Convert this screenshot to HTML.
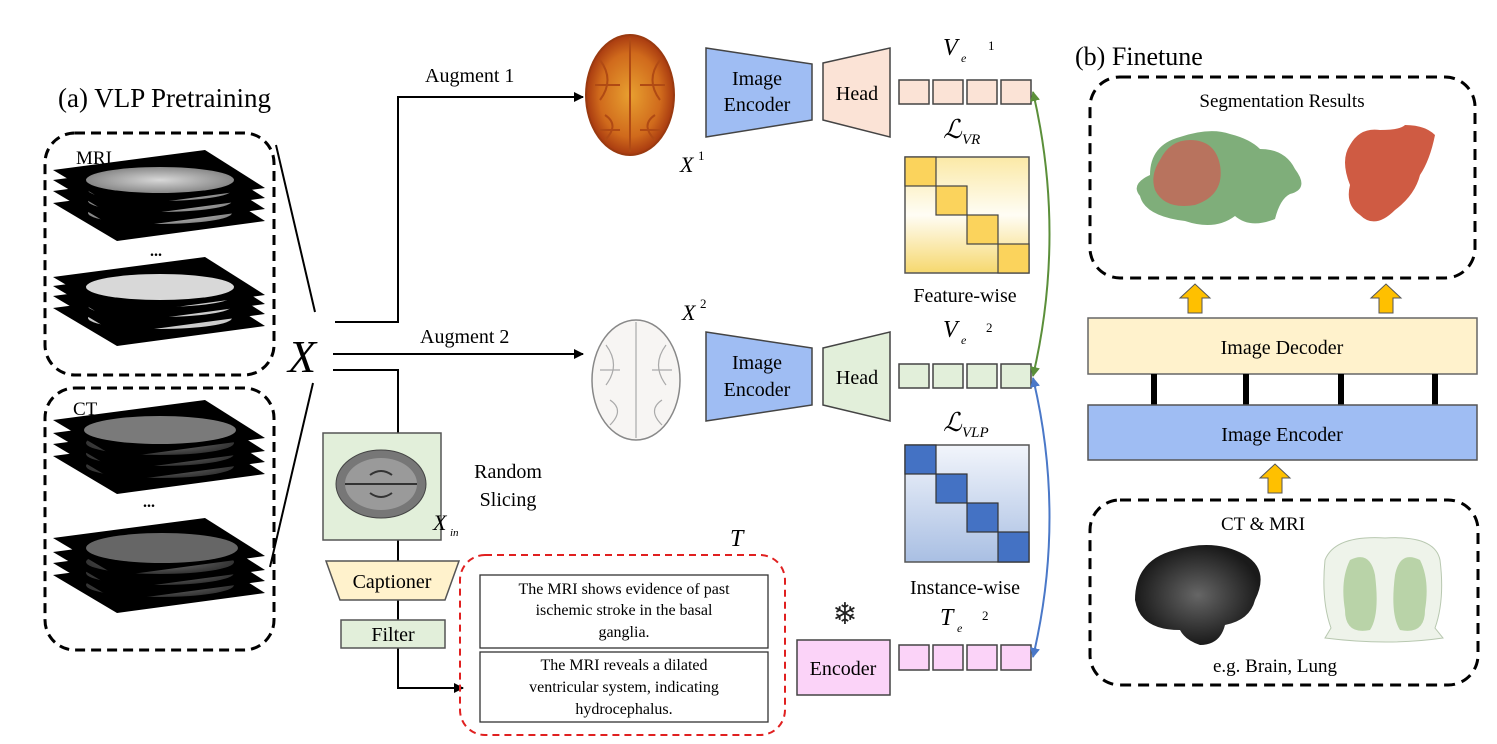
<!DOCTYPE html>
<html><head><meta charset="utf-8"><style>
body{margin:0;background:#fff}
svg{display:block;font-family:"Liberation Serif",serif}
</style></head><body>
<svg width="1497" height="744" viewBox="0 0 1497 744" xmlns="http://www.w3.org/2000/svg">
<defs>
<marker id="ar" markerWidth="10" markerHeight="10" refX="9" refY="5" orient="auto" markerUnits="userSpaceOnUse"><path d="M0,0 L10,5 L0,10 z" fill="#000"/></marker>
<marker id="ag" markerWidth="10" markerHeight="10" refX="9" refY="5" orient="auto-start-reverse" markerUnits="userSpaceOnUse"><path d="M0,0 L10,5 L0,10 z" fill="#5b8f3a"/></marker>
<marker id="ab" markerWidth="10" markerHeight="10" refX="9" refY="5" orient="auto-start-reverse" markerUnits="userSpaceOnUse"><path d="M0,0 L10,5 L0,10 z" fill="#4a78c8"/></marker>
<linearGradient id="gy" x1="0" y1="0" x2="0" y2="1"><stop offset="0" stop-color="#fbe9a6"/><stop offset="0.5" stop-color="#fffdf5"/><stop offset="1" stop-color="#f6d86e"/></linearGradient>
<linearGradient id="gb" x1="0" y1="0" x2="0" y2="1"><stop offset="0" stop-color="#f2f5fb"/><stop offset="1" stop-color="#a9bfe3"/></linearGradient>
<radialGradient id="br1"><stop offset="0" stop-color="#e8a030"/><stop offset="0.7" stop-color="#d06a1c"/><stop offset="1" stop-color="#a83a10"/></radialGradient>
<radialGradient id="mri"><stop offset="0" stop-color="#d8d8d8"/><stop offset="1" stop-color="#888"/></radialGradient>
<radialGradient id="ct"><stop offset="0" stop-color="#777"/><stop offset="1" stop-color="#333"/></radialGradient>
<radialGradient id="db"><stop offset="0" stop-color="#666"/><stop offset="1" stop-color="#1a1a1a"/></radialGradient>
<g id="sl"><polygon points="53,20 205,0 265,38 117,58" fill="#000"/></g>
</defs>

<text x="58" y="107" font-size="27">(a) VLP Pretraining</text>

<rect x="45" y="133" width="229" height="242" rx="30" fill="none" stroke="#000" stroke-width="3" stroke-dasharray="10,6"/>
<g>
<use href="#sl" transform="translate(0,183)"/><ellipse cx="160" cy="213" rx="72" ry="11" fill="url(#mri)"/>
<use href="#sl" transform="translate(0,171)"/><ellipse cx="160" cy="201" rx="72" ry="11" fill="url(#mri)"/>
<use href="#sl" transform="translate(0,160)"/><ellipse cx="160" cy="190" rx="72" ry="11" fill="url(#mri)"/>
<use href="#sl" transform="translate(0,150)"/><ellipse cx="160" cy="180" rx="74" ry="13" fill="url(#mri)"/>
<text x="150" y="256" font-size="16" font-weight="bold">...</text>
<use href="#sl" transform="translate(0,288)"/><ellipse cx="160" cy="318" rx="72" ry="11" fill="#ccc"/>
<use href="#sl" transform="translate(0,276)"/><ellipse cx="160" cy="306" rx="72" ry="11" fill="#ccc"/>
<use href="#sl" transform="translate(0,266)"/><ellipse cx="160" cy="296" rx="72" ry="11" fill="#ccc"/>
<use href="#sl" transform="translate(0,257)"/><ellipse cx="160" cy="287" rx="74" ry="13" fill="#d8d8d8"/>
</g>
<text x="76" y="164" font-size="19">MRI</text>

<rect x="45" y="388" width="229" height="262" rx="30" fill="none" stroke="#000" stroke-width="3" stroke-dasharray="10,6"/>
<g>
<use href="#sl" transform="translate(0,436)"/><ellipse cx="160" cy="466" rx="74" ry="12" fill="url(#ct)"/>
<use href="#sl" transform="translate(0,424)"/><ellipse cx="160" cy="454" rx="74" ry="12" fill="url(#ct)"/>
<use href="#sl" transform="translate(0,413)"/><ellipse cx="160" cy="443" rx="74" ry="12" fill="url(#ct)"/>
<use href="#sl" transform="translate(0,400)"/><ellipse cx="160" cy="430" rx="76" ry="14" fill="#7a7a7a"/>
<text x="143" y="507" font-size="16" font-weight="bold">...</text>
<use href="#sl" transform="translate(0,555)"/><ellipse cx="160" cy="585" rx="74" ry="12" fill="url(#ct)"/>
<use href="#sl" transform="translate(0,543)"/><ellipse cx="160" cy="573" rx="74" ry="12" fill="url(#ct)"/>
<use href="#sl" transform="translate(0,532)"/><ellipse cx="160" cy="562" rx="74" ry="12" fill="url(#ct)"/>
<use href="#sl" transform="translate(0,518)"/><ellipse cx="162" cy="548" rx="76" ry="15" fill="#666"/>
</g>
<text x="73" y="415" font-size="19">CT</text>

<line x1="276" y1="145" x2="315" y2="312" stroke="#000" stroke-width="2"/>
<line x1="313" y1="383" x2="270" y2="567" stroke="#000" stroke-width="2"/>
<text x="288" y="372" font-size="46" font-style="italic">X</text>
<polyline points="335,322 398,322 398,97 583,97" fill="none" stroke="#000" stroke-width="2" marker-end="url(#ar)"/>
<line x1="333" y1="354" x2="583" y2="354" stroke="#000" stroke-width="2" marker-end="url(#ar)"/>
<polyline points="333,370 398,370 398,433" fill="none" stroke="#000" stroke-width="2"/>
<line x1="398" y1="540" x2="398" y2="561" stroke="#000" stroke-width="2"/>
<line x1="398" y1="600" x2="398" y2="620" stroke="#000" stroke-width="2"/>
<polyline points="398,648 398,688 463,688" fill="none" stroke="#000" stroke-width="2" marker-end="url(#ar)"/>
<text x="425" y="82" font-size="20">Augment 1</text>
<text x="420" y="343" font-size="20">Augment 2</text>

<ellipse cx="630" cy="95" rx="44" ry="60" fill="url(#br1)" stroke="#9a3a10" stroke-width="2"/>
<path d="M630,38 L630,152 M600,60 q15,20 0,40 M660,60 q-15,20 0,40 M605,115 q15,10 0,25 M655,115 q-15,10 0,25 M595,85 h25 M640,85 h25 M600,130 h20 M640,130 h20" stroke="#b04a14" fill="none" stroke-width="2"/>
<text x="680" y="172" font-size="22" font-style="italic">X</text><text x="698" y="160" font-size="13">1</text>
<ellipse cx="636" cy="380" rx="44" ry="60" fill="#f7f5f3" stroke="#888" stroke-width="1.5"/>
<path d="M636,322 L636,438 M606,345 q15,20 0,40 M666,345 q-15,20 0,40 M610,400 q15,10 0,25 M662,400 q-15,10 0,25 M600,370 h20 M652,370 h20" stroke="#aaa" fill="none" stroke-width="1.2"/>
<text x="682" y="320" font-size="22" font-style="italic">X</text><text x="700" y="308" font-size="13">2</text>

<polygon points="706,48 812,64 812,120 706,137" fill="#9fbdf3" stroke="#444" stroke-width="1.5"/>
<text x="757" y="85" font-size="20" text-anchor="middle">Image</text>
<text x="757" y="111" font-size="20" text-anchor="middle">Encoder</text>
<polygon points="823,63 890,48 890,137 823,120" fill="#fbe3d6" stroke="#444" stroke-width="1.5"/>
<text x="857" y="100" font-size="20" text-anchor="middle">Head</text>
<g fill="#fbe3d6" stroke="#444" stroke-width="1.5">
<rect x="899" y="80" width="30" height="24"/><rect x="933" y="80" width="30" height="24"/><rect x="967" y="80" width="30" height="24"/><rect x="1001" y="80" width="30" height="24"/></g>
<text x="943" y="55" font-size="24" font-style="italic">V</text><text x="961" y="62" font-size="12" font-style="italic">e</text><text x="988" y="50" font-size="13">1</text>
<text x="943" y="138" font-size="26" font-style="italic">ℒ</text><text x="962" y="144" font-size="15" font-style="italic">VR</text>

<rect x="905" y="157" width="124" height="116" fill="url(#gy)" stroke="#555" stroke-width="1.5"/>
<g fill="#fbd35c" stroke="#444" stroke-width="1.2">
<rect x="905" y="157" width="31" height="29"/><rect x="936" y="186" width="31" height="29"/><rect x="967" y="215" width="31" height="29"/><rect x="998" y="244" width="31" height="29"/></g>
<text x="965" y="302" font-size="20" text-anchor="middle">Feature-wise</text>

<polygon points="706,332 812,348 812,405 706,421" fill="#9fbdf3" stroke="#444" stroke-width="1.5"/>
<text x="757" y="369" font-size="20" text-anchor="middle">Image</text>
<text x="757" y="396" font-size="20" text-anchor="middle">Encoder</text>
<polygon points="823,348 890,332 890,421 823,405" fill="#e2efda" stroke="#444" stroke-width="1.5"/>
<text x="857" y="384" font-size="20" text-anchor="middle">Head</text>
<g fill="#e2efda" stroke="#444" stroke-width="1.5">
<rect x="899" y="364" width="30" height="24"/><rect x="933" y="364" width="30" height="24"/><rect x="967" y="364" width="30" height="24"/><rect x="1001" y="364" width="30" height="24"/></g>
<text x="943" y="337" font-size="24" font-style="italic">V</text><text x="961" y="344" font-size="12" font-style="italic">e</text><text x="986" y="332" font-size="13">2</text>
<text x="943" y="431" font-size="26" font-style="italic">ℒ</text><text x="962" y="437" font-size="15" font-style="italic">VLP</text>

<rect x="905" y="445" width="124" height="117" fill="url(#gb)" stroke="#555" stroke-width="1.5"/>
<g fill="#4472c4" stroke="#333" stroke-width="1.2">
<rect x="905" y="445" width="31" height="29"/><rect x="936" y="474" width="31" height="29"/><rect x="967" y="503" width="31" height="29"/><rect x="998" y="532" width="31" height="30"/></g>
<text x="965" y="594" font-size="20" text-anchor="middle">Instance-wise</text>

<text x="845" y="624" font-size="30" text-anchor="middle" fill="#222">❄</text>
<rect x="797" y="640" width="93" height="55" fill="#fbd3f8" stroke="#444" stroke-width="1.5"/>
<text x="843" y="675" font-size="20" text-anchor="middle">Encoder</text>
<g fill="#fbd3f8" stroke="#444" stroke-width="1.5">
<rect x="899" y="645" width="30" height="25"/><rect x="933" y="645" width="30" height="25"/><rect x="967" y="645" width="30" height="25"/><rect x="1001" y="645" width="30" height="25"/></g>
<text x="940" y="625" font-size="24" font-style="italic">T</text><text x="957" y="632" font-size="12" font-style="italic">e</text><text x="982" y="620" font-size="13">2</text>

<path d="M1033,92 Q1066,234 1033,376" fill="none" stroke="#5b8f3a" stroke-width="2" marker-start="url(#ag)" marker-end="url(#ag)"/>
<path d="M1033,378 Q1066,517 1033,657" fill="none" stroke="#4a78c8" stroke-width="2" marker-start="url(#ab)" marker-end="url(#ab)"/>

<rect x="323" y="433" width="118" height="107" fill="#e2efda" stroke="#555" stroke-width="1.5"/>
<ellipse cx="381" cy="484" rx="45" ry="34" fill="#777" stroke="#444"/>
<ellipse cx="381" cy="484" rx="36" ry="26" fill="#9a9a9a"/>
<path d="M345,484 h72 M370,475 q11,-8 22,0 M370,493 q11,8 22,0" stroke="#333" fill="none" stroke-width="2"/>
<text x="433" y="530" font-size="22" font-style="italic">X</text><text x="450" y="536" font-size="11" font-style="italic">in</text>
<text x="508" y="478" font-size="20" text-anchor="middle">Random</text>
<text x="508" y="506" font-size="20" text-anchor="middle">Slicing</text>
<polygon points="326,561 459,561 445,600 340,600" fill="#fff2cc" stroke="#555" stroke-width="1.5"/>
<text x="392" y="588" font-size="20" text-anchor="middle">Captioner</text>
<rect x="341" y="620" width="104" height="28" fill="#e2efda" stroke="#555" stroke-width="1.5"/>
<text x="393" y="641" font-size="20" text-anchor="middle">Filter</text>

<text x="730" y="546" font-size="24" font-style="italic">T</text>
<rect x="460" y="555" width="325" height="180" rx="25" fill="none" stroke="#e02020" stroke-width="2" stroke-dasharray="7,5"/>
<rect x="480" y="575" width="288" height="73" fill="#fff" stroke="#333" stroke-width="1.3"/>
<g font-size="16" text-anchor="middle">
<text x="624" y="594">The MRI shows evidence of past</text>
<text x="624" y="615">ischemic stroke in the basal</text>
<text x="624" y="637">ganglia.</text></g>
<rect x="480" y="652" width="288" height="70" fill="#fff" stroke="#333" stroke-width="1.3"/>
<g font-size="16" text-anchor="middle">
<text x="624" y="670">The MRI reveals a dilated</text>
<text x="624" y="692">ventricular system, indicating</text>
<text x="624" y="714">hydrocephalus.</text></g>

<text x="1075" y="65" font-size="26">(b) Finetune</text>
<rect x="1090" y="77" width="385" height="201" rx="30" fill="none" stroke="#000" stroke-width="3" stroke-dasharray="11,7"/>
<text x="1282" y="107" font-size="19" text-anchor="middle">Segmentation Results</text>
<path d="M1150,175 q0,-30 30,-38 q30,-10 50,-3 q20,5 30,15 q25,0 35,20 q15,20 -5,25 q-10,5 -15,25 q-25,10 -40,-3 q-20,15 -50,5 q-40,-5 -45,-25 q-10,-12 10,-21z" fill="#7fae7a"/>
<path d="M1160,160 q10,-20 30,-20 q25,0 30,25 q5,30 -25,40 q-30,5 -40,-15 q-5,-15 5,-30z" fill="#b8735e"/>
<path d="M1350,145 q10,-18 30,-15 q20,0 25,-5 q20,0 30,10 q-5,25 -15,40 q-5,20 -25,35 q-20,20 -35,5 q-15,-10 -10,-30 q-10,-25 0,-40z" fill="#cf5b43"/>

<g fill="#ffc000" stroke="#555" stroke-width="1">
<polygon points="1188,313 1202,313 1202,298 1210,298 1195,284 1180,298 1188,298"/>
<polygon points="1379,313 1393,313 1393,298 1401,298 1386,284 1371,298 1379,298"/>
<polygon points="1268,493 1282,493 1282,478 1290,478 1275,464 1260,478 1268,478"/>
</g>
<rect x="1088" y="318" width="389" height="56" fill="#fff2cc" stroke="#666" stroke-width="1.5"/>
<text x="1282" y="354" font-size="20" text-anchor="middle">Image Decoder</text>
<g fill="#000"><rect x="1151" y="374" width="6" height="31"/><rect x="1243" y="374" width="6" height="31"/><rect x="1338" y="374" width="6" height="31"/><rect x="1432" y="374" width="6" height="31"/></g>
<rect x="1088" y="405" width="389" height="55" fill="#9fbdf3" stroke="#555" stroke-width="1.5"/>
<text x="1282" y="441" font-size="20" text-anchor="middle">Image Encoder</text>

<rect x="1090" y="500" width="388" height="185" rx="30" fill="none" stroke="#000" stroke-width="3" stroke-dasharray="11,7"/>
<text x="1263" y="530" font-size="19" text-anchor="middle">CT &amp; MRI</text>
<path d="M1135,600 q0,-40 40,-50 q40,-12 70,5 q25,15 10,45 q-5,20 -30,25 q-5,20 -25,20 q-15,-5 -20,-15 q-40,0 -45,-30z" fill="url(#db)"/>
<path d="M1325,560 q10,-25 60,-22 q50,-3 55,22 q5,40 -5,68 l8,10 q-55,8 -118,0 l6,-10 q-10,-28 -6,-68z" fill="#eef3ea" stroke="#b8c8b0"/>
<path d="M1350,560 q20,-10 25,15 q5,40 -5,55 q-25,5 -25,-20 q-5,-30 5,-50z M1420,560 q-20,-10 -25,15 q-5,40 5,55 q25,5 25,-20 q5,-30 -5,-50z" fill="#b9d3a8"/>
<text x="1275" y="672" font-size="19" text-anchor="middle">e.g. Brain, Lung</text>
</svg>
</body></html>
